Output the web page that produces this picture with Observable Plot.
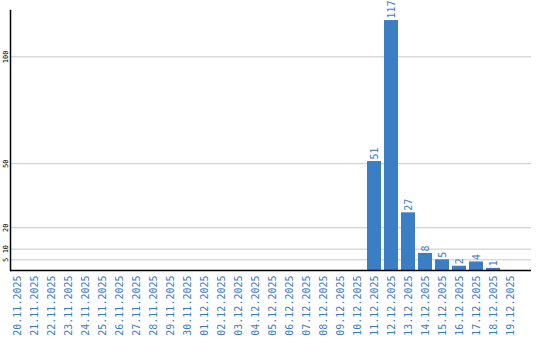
<!DOCTYPE html>
<html>
<head>
<meta charset="utf-8">
<script src="https://cdn.jsdelivr.net/npm/d3@7"></script>
<script src="https://cdn.jsdelivr.net/npm/@observablehq/plot@0.6"></script>
<style>
  html, body { margin: 0; padding: 0; background: #fff; }
  #chart svg { display: block; }
</style>
</head>
<body>
<div id="chart"></div>
<script>
const dates = [
  "20.11.2025","21.11.2025","22.11.2025","23.11.2025","24.11.2025","25.11.2025",
  "26.11.2025","27.11.2025","28.11.2025","29.11.2025","30.11.2025","01.12.2025",
  "02.12.2025","03.12.2025","04.12.2025","05.12.2025","06.12.2025","07.12.2025",
  "08.12.2025","09.12.2025","10.12.2025","11.12.2025","12.12.2025","13.12.2025",
  "14.12.2025","15.12.2025","16.12.2025","17.12.2025","18.12.2025","19.12.2025"
];
const values = [
  0,0,0,0,0,0,
  0,0,0,0,0,0,
  0,0,0,0,0,0,
  0,0,0,51,117,27,
  8,5,2,4,1,0
];
const yTicks = [5, 10, 20, 50, 100];

const data = dates.map((d, i) => ({date: d, value: values[i]}));
const labeled = data.filter(d => d.value > 0);

const blue = "#3b7ec4";
const textBlue = "#3a7bc8";

const chart = Plot.plot({
  width: 540,
  height: 340,
  marginLeft: 10,
  marginRight: 9,
  marginTop: 10,
  marginBottom: 70,
  style: {background: "#fff", overflow: "visible"},
  x: {domain: dates, range: [10, 520], paddingInner: 0.176, paddingOuter: 0.088, align: 0},
  y: {domain: [0, 121.7]},
  marks: [
    Plot.ruleY(yTicks, {stroke: "#c8c8c8", strokeWidth: 1}),
    Plot.barY(data, {x: "date", y: "value", fill: blue}),
    Plot.text(labeled, {
      x: "date", y: "value", text: d => String(d.value),
      rotate: -90, textAnchor: "start", dx: 0, dy: -2,
      fill: textBlue, fontFamily: "DejaVu Sans Mono", fontSize: 10
    }),
    Plot.axisX({
      tickSize: 0, tickPadding: 5, tickRotate: -90,
      fontFamily: "DejaVu Sans Mono", fontSize: 10, color: textBlue, label: null
    }),
    Plot.axisY({
      ticks: yTicks, tickSize: 0, tickPadding: 3, tickRotate: -90,
      fontFamily: "DejaVu Sans Mono", fontSize: 7, color: "#000", label: null
    }),
    Plot.ruleY([0], {stroke: "#000", strokeWidth: 1.5}),
    Plot.frame({anchor: "left", stroke: "#000", strokeWidth: 1.5})
  ]
});
document.getElementById("chart").appendChild(chart);
</script>
</body>
</html>
